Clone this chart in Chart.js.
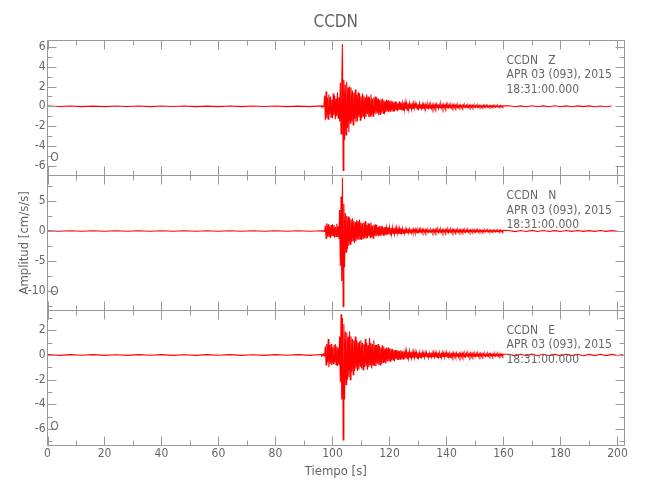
<!DOCTYPE html>
<html><head><meta charset="utf-8">
<script src="https://cdn.jsdelivr.net/npm/chart.js@4.4.1/dist/chart.umd.min.js"></script>
<style>
html,body{margin:0;padding:0;background:#fff;}
#wrap{position:relative;width:650px;height:500px;background:#fff;}
#wrap canvas{position:absolute;left:0;top:0;}
</style></head><body>
<div id="wrap">
<canvas id="cZ" width="650" height="500"></canvas>
<canvas id="cN" width="650" height="500"></canvas>
<canvas id="cE" width="650" height="500"></canvas>
</div>
<script>
// ---- sampling of the three record pieces (seconds) ----
const tPre = 0, dtPre = 4;       // quiet part before the P arrival
const tMain = 96, dtMain = 0.25; // strong motion and coda
const tTail = 162, dtTail = 2;   // late coda

// ---- Z component ----
const zPre = [0.03,-0.02,0.03,-0.03,0.02,-0.03,0.03,-0.02,0.03,-0.03,0.03,-0.02,0.03,-0.03,0.02,-0.03,0.03,-0.03,0.03,-0.02,0.03,-0.03,0.02,-0.03];
const zMain = [0.05,-0.06,0.04,-0.05,0.08,
 1.1,-1.4,1.5,-1.2,0.9,-1.3,1.2,-0.8,1.0,-1.1,0.7,-1.2,
 1.3,-0.9,1.1,-1.3,0.8,-1.0,1.4,-1.2,0.9,-1.5,
 2.4,-2.8,2.2,
 6.3,-6.5,
 2.7,-3.4,2.2,-2.9,2.5,-2.2,1.9,-2.6,2.0,
 -1.7,1.9,-1.5,1.6,-1.9,1.4,-1.3,1.7,-1.6,1.2,-1.5,1.4,-1.1,1.3,-1.4,1.0,
 -1.2,1.3,-1.0,1.1,-1.3,0.9,-1.1,1.2,-0.8,1.0,-1.1,0.9,-1.0,1.2,-0.9,0.8,-1.0,0.9,-0.7,1.0,
 -0.8,0.9,-0.7,0.8,-0.9,0.6,-0.8,0.7,-0.6,0.8,-0.7,0.6,-0.8,0.5,-0.6,0.7,-0.5,0.6,-0.6,0.5,
 -0.5,0.6,-0.4,0.5,-0.5,0.4,-0.5,0.5,-0.4,0.4,-0.5,0.3,-0.4,0.5,-0.3,0.4,-0.4,0.3,-0.4,0.4,
 -0.3,0.4,-0.3,0.3,-0.4,0.3,-0.3,0.3,-0.2,0.3,-0.3,0.2,-0.3,0.3,-0.2,0.3,-0.2,0.2,-0.3,0.2,
 -0.2,0.3,-0.2,0.2,-0.2,0.2,-0.3,0.2,-0.2,0.2,-0.2,0.15,-0.2,0.2,-0.15,0.2,-0.2,0.15,-0.2,0.15,
 -0.2,0.15,-0.2,0.2,-0.15,0.2,-0.15,0.2,-0.2,0.15,
 -0.15,0.2,-0.15,0.15,-0.2,0.15,-0.15,0.15,-0.15,0.2,
 -0.15,0.15,-0.12,0.15,-0.15,0.12,-0.15,0.15,-0.12,0.15,
 -0.12,0.15,-0.12,0.12,-0.15,0.12,-0.12,0.12,-0.1,0.12,
 -0.12,0.1,-0.12,0.12,-0.1,0.12,-0.1,0.1,-0.12,0.1,
 -0.1,0.12,-0.1,0.1,-0.1,0.12,-0.1,0.08,-0.1,0.1,
 -0.1,0.08,-0.1,0.1,-0.08,0.1,-0.08,0.08,-0.1,0.08,
 -0.08,0.1,-0.08,0.08,-0.08,0.1,-0.08,0.06,-0.08,0.08,
 -0.08,0.06,-0.08,0.08,-0.06,0.08,-0.06,0.06,-0.08,0.06,
 -0.06,0.08,-0.06,0.06,-0.06,0.08,-0.06,0.05,-0.06,0.06];
const zTail = [0.05,-0.05,0.04,-0.05,0.05,-0.04,0.04,-0.04,0.05,-0.04,0.04,-0.04,0.04,-0.03,0.04,-0.04,0.03,-0.04,0.03];

// ---- N component ----
const nPre = [0.05,-0.04,0.05,-0.05,0.04,-0.05,0.05,-0.04,0.05,-0.05,0.05,-0.04,0.05,-0.05,0.04,-0.05,0.05,-0.05,0.05,-0.04,0.05,-0.05,0.04,-0.05];
const nMain = [0.05,-0.05,0.06,-0.05,0.05,-0.06,
 0.9,-1.2,1.3,-0.9,1.1,-1.0,0.8,-1.2,1.0,-0.9,1.1,
 -0.8,1.0,-1.1,0.7,-0.9,1.2,-1.0,0.8,-1.3,
 3.5,-5.8,5.7,-8.3,
 8.8,-12.5,
 4.5,-6.0,3.0,-3.5,2.5,-3.0,2.4,-2.5,2.2,
 -2.2,1.9,-1.8,2.1,-1.6,1.7,-2.0,1.5,-1.7,1.8,-1.4,1.6,-1.5,1.9,-1.3,1.4,
 -1.5,1.3,-1.2,1.4,-1.1,1.6,-1.3,1.0,-1.2,1.3,-0.9,1.2,-1.1,1.4,-1.0,0.9,-1.2,1.0,-0.8,1.1,
 -0.9,1.0,-0.8,0.7,-0.9,0.8,-0.7,0.9,-0.6,0.8,-0.7,0.6,-0.8,0.7,-0.6,0.5,-0.7,0.6,-0.5,0.6,
 -0.6,0.5,-0.5,0.6,-0.4,0.5,-0.5,0.4,-0.5,0.5,-0.4,0.4,-0.5,0.4,-0.4,0.5,-0.3,0.4,-0.4,0.3,
 -0.4,0.3,-0.4,0.3,-0.3,0.4,-0.3,0.3,-0.3,0.3,-0.3,0.2,-0.3,0.3,-0.2,0.3,-0.3,0.2,-0.3,0.2,
 -0.2,0.3,-0.2,0.2,-0.2,0.3,-0.2,0.2,-0.2,0.2,-0.25,0.2,-0.2,0.2,-0.2,0.15,-0.2,0.2,-0.15,0.2,
 -0.25,0.2,-0.25,0.25,-0.2,0.25,-0.2,0.2,-0.25,0.2,
 -0.2,0.25,-0.2,0.2,-0.25,0.2,-0.2,0.2,-0.2,0.25,
 -0.2,0.2,-0.25,0.2,-0.2,0.2,-0.2,0.25,-0.2,0.2,
 -0.2,0.2,-0.18,0.2,-0.2,0.18,-0.2,0.2,-0.18,0.2,
 -0.18,0.2,-0.18,0.18,-0.2,0.18,-0.18,0.18,-0.15,0.18,
 -0.18,0.15,-0.18,0.18,-0.15,0.18,-0.15,0.15,-0.18,0.15,
 -0.15,0.18,-0.15,0.15,-0.15,0.15,-0.15,0.12,-0.15,0.15,
 -0.15,0.12,-0.15,0.15,-0.12,0.15,-0.12,0.12,-0.15,0.12,
 -0.12,0.15,-0.12,0.12,-0.12,0.12,-0.12,0.1,-0.12,0.12,
 -0.12,0.1,-0.12,0.12,-0.1,0.12,-0.1,0.1,-0.12,0.1];
const nTail = [0.08,-0.1,0.08,-0.08,0.1,-0.08,0.08,-0.08,0.06,-0.08,0.08,-0.06,0.08,-0.06,0.06,-0.06,0.08,-0.06,0.06,-0.05];

// ---- E component ----
const ePre = [0.03,-0.03,0.03,-0.02,0.03,-0.03,0.02,-0.03,0.03,-0.02,0.03,-0.03,0.02,-0.03,0.03,-0.02,0.03,-0.03,0.02,-0.03,0.03,-0.02,0.03,-0.03];
const eMain = [0.04,-0.05,0.05,-0.04,0.05,-0.05,
 0.7,-0.8,0.9,-0.6,1.3,-1.0,0.8,-0.7,0.9,-0.8,0.6,
 -0.7,0.8,-0.6,0.9,-0.8,0.7,-0.9,0.6,-0.8,
 1.5,-2.2,3.3,-3.6,
 3.0,-6.9,
 2.5,-3.6,1.9,-2.4,1.8,-2.0,1.5,-1.8,1.9,
 -2.0,1.5,-1.4,1.3,-1.6,1.2,-1.3,1.5,-1.1,1.2,-1.3,1.0,-1.2,1.1,-0.9,1.2,
 -1.1,1.0,-1.2,0.9,-1.0,1.3,-0.9,1.0,-1.2,0.8,-1.0,1.4,-0.8,1.0,-1.1,0.9,-0.8,1.2,-0.9,0.8,
 -0.9,0.8,-0.7,0.9,-0.8,0.7,-0.8,0.6,-0.7,0.8,-0.6,0.7,-0.6,0.5,-0.7,0.6,-0.5,0.6,-0.5,0.5,
 -0.5,0.5,-0.4,0.5,-0.4,0.4,-0.5,0.4,-0.3,0.4,-0.4,0.35,-0.4,0.3,-0.35,0.4,-0.3,0.3,-0.35,0.3,
 -0.3,0.3,-0.25,0.3,-0.3,0.25,-0.25,0.3,-0.2,0.25,-0.25,0.2,-0.25,0.25,-0.2,0.25,-0.2,0.2,-0.25,0.2,
 -0.2,0.2,-0.2,0.2,-0.15,0.2,-0.2,0.15,-0.2,0.2,-0.15,0.2,-0.15,0.15,-0.2,0.15,-0.15,0.2,-0.15,0.15,
 -0.2,0.2,-0.15,0.2,-0.2,0.15,-0.2,0.2,-0.15,0.2,
 -0.2,0.15,-0.2,0.2,-0.15,0.15,-0.2,0.15,-0.15,0.2,
 -0.15,0.2,-0.15,0.15,-0.2,0.15,-0.15,0.15,-0.12,0.15,
 -0.15,0.12,-0.15,0.15,-0.12,0.15,-0.15,0.12,-0.15,0.12,
 -0.12,0.15,-0.12,0.12,-0.15,0.12,-0.12,0.12,-0.1,0.12,
 -0.12,0.1,-0.12,0.15,-0.12,0.12,-0.1,0.12,-0.12,0.1,
 -0.1,0.12,-0.1,0.1,-0.12,0.1,-0.1,0.12,-0.1,0.1,
 -0.1,0.1,-0.08,0.1,-0.1,0.08,-0.1,0.1,-0.08,0.1,
 -0.08,0.1,-0.08,0.08,-0.1,0.08,-0.08,0.1,-0.08,0.08,
 -0.08,0.08,-0.1,0.08,-0.08,0.08,-0.06,0.08,-0.08,0.06];
const eTail = [0.06,-0.07,0.06,-0.06,0.07,-0.06,0.06,-0.06,0.05,-0.06,0.06,-0.05,0.06,-0.06,0.05,-0.05,0.06,-0.05,0.05,-0.05,0.04];

// ---- axes / tick labels ----
const xMajor = [0,20,40,60,80,100,120,140,160,180,200];
const xMinor = [10,30,50,70,90,110,130,150,170,190];
const zMajor = [-6,-4,-2,0,2,4,6], zMinor = [-7,-5,-3,-1,1,3,5];
const nMajor = [-10,-5,0,5], nMinor = [-12.5,-7.5,-2.5,2.5,7.5];
const eMajor = [-6,-4,-2,0,2], eMinor = [-7,-5,-3,-1,1,3];
const station = 'CCDN';
const components = ['Z','N','E'];
const dateLine = 'APR 03 (093), 2015';
const timeLine = '18:31:00.000';
const titleText = 'CCDN';
const xTitle = 'Tiempo [s]';
const yTitle = 'Amplitud [cm/s/s]';

const FONT = "'DejaVu Sans Condensed','Liberation Sans Narrow','DejaVu Sans',sans-serif";
const TXT = '#666';
const AX = '#999';

function buildSeries(pre, main, tail){
  const pts = [];
  pre.forEach((v,i)=>pts.push({x:tPre+i*dtPre, y:v}));
  main.forEach((v,i)=>pts.push({x:tMain+i*dtMain, y:v}));
  tail.forEach((v,i)=>pts.push({x:tTail+i*dtTail, y:v}));
  return pts;
}

const framePlugin = {
  id:'frame',
  afterDraw(chart, args, o){
    const {ctx, chartArea:a} = chart;
    const x = chart.scales.x, y = chart.scales.y;
    ctx.save();
    ctx.strokeStyle = AX; ctx.lineWidth = 1;
    const L = Math.floor(a.left)+0.5, R = Math.floor(a.right)+0.5;
    const T = Math.floor(a.top)+0.5, B = Math.floor(a.bottom)+0.5;
    ctx.beginPath();
    ctx.rect(L, T, R-L, B-T);
    const LONG = 9, SHORT = 5;
    const vt = (v,len)=>{ const p = Math.round(x.getPixelForValue(v))+0.5;
      ctx.moveTo(p,B); ctx.lineTo(p,B-len); ctx.moveTo(p,T); ctx.lineTo(p,T+len); };
    const ht = (v,len)=>{ const p = Math.round(y.getPixelForValue(v))+0.5;
      ctx.moveTo(L,p); ctx.lineTo(L+len,p); ctx.moveTo(R,p); ctx.lineTo(R-len,p); };
    xMajor.forEach(v=>vt(v,LONG)); xMinor.forEach(v=>vt(v,SHORT));
    o.major.forEach(v=>ht(v,LONG)); o.minor.forEach(v=>ht(v,SHORT));
    ctx.stroke();
    ctx.fillStyle = TXT;
    ctx.font = "12px " + FONT;
    ctx.textAlign = 'left'; ctx.textBaseline = 'middle';
    ctx.fillText(station + '   ' + o.comp, 506.5, a.top+20.5);
    ctx.fillText(dateLine, 506.5, a.top+35);
    ctx.fillText(timeLine, 506.5, a.top+49.5);
    ctx.textAlign = 'center';
    ctx.fillText('O', 54.5, a.bottom-18.2);
    ctx.restore();
  }
};

function makeChart(id, data, yMin, yMax, major, minor, comp, opts){
  const showX = !!opts.showX;
  return new Chart(document.getElementById(id), {
    type:'line',
    data:{datasets:[{data:data, borderColor:'#ff0000', borderWidth:1.1, pointRadius:0, tension:0, fill:false}]},
    options:{
      responsive:false, animation:false, devicePixelRatio:1, events:[],
      layout:{padding:opts.padding},
      plugins:{
        legend:{display:false}, tooltip:{enabled:false},
        title: opts.title ? {display:true, text:titleText, fullSize:false, color:TXT,
          font:{family:FONT, size:17, weight:'normal'}, padding:{top:12.6,bottom:7}} : {display:false},
        frame:{major:major, minor:minor, comp:comp}
      },
      scales:{
        x:{type:'linear', min:0, max:202.3, display:showX,
          grid:{display:false, drawTicks:false}, border:{display:false},
          afterBuildTicks:s=>{s.ticks = xMajor.map(v=>({value:v}));},
          afterFit:s=>{ if(showX) s.height = 55; },
          ticks:{color:TXT, font:{family:FONT, size:12}, padding:2, maxRotation:0, autoSkip:false},
          title:{display:showX, text:xTitle, color:TXT, font:{family:FONT, size:13}, padding:{top:0,bottom:20.5}}
        },
        y:{type:'linear', min:yMin, max:yMax,
          grid:{display:false, drawTicks:false}, border:{display:false},
          afterBuildTicks:s=>{s.ticks = major.map(v=>({value:v}));},
          afterFit:s=>{s.width = 47.5;},
          ticks:{color:TXT, font:{family:FONT, size:12}, padding:2},
          title:{display:!!opts.yTitle, text:yTitle, color:TXT, font:{family:FONT, size:13}, padding:{top:17,bottom:0}}
        }
      }
    },
    plugins:[framePlugin]
  });
}

makeChart('cZ', buildSeries(zPre,zMain,zTail), -7.03, 6.72, zMajor, zMinor, components[0],
  {title:true, padding:{top:0,bottom:324.3,left:0,right:26}});
makeChart('cN', buildSeries(nPre,nMain,nTail), -13.1, 9.17, nMajor, nMinor, components[1],
  {yTitle:true, padding:{top:175.7,bottom:190,left:0,right:26}});
makeChart('cE', buildSeries(ePre,eMain,eTail), -7.3, 3.65, eMajor, eMinor, components[2],
  {showX:true, padding:{top:310,bottom:0,left:0,right:26}});
</script>
</body></html>
